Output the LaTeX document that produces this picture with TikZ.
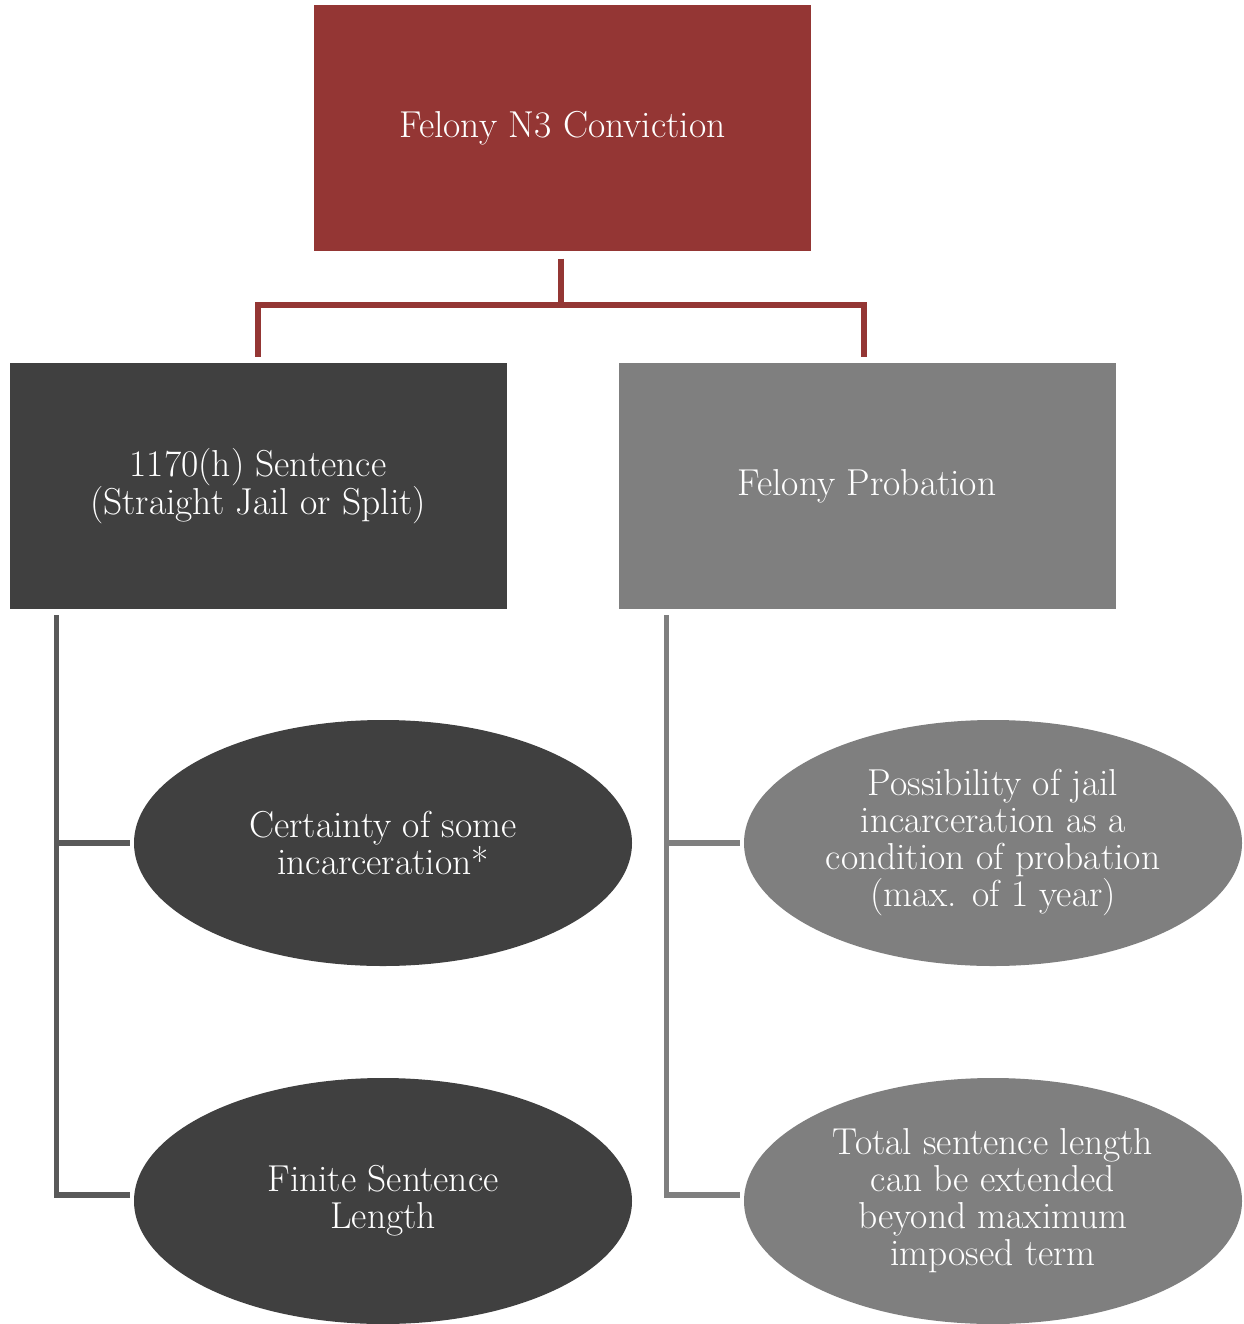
\documentclass[tikz,border=0pt]{standalone}
\usetikzlibrary{shapes.geometric}
\definecolor{topred}{HTML}{943634}
\definecolor{darkbox}{HTML}{404040}
\definecolor{graybox}{HTML}{7F7F7F}
\definecolor{darkline}{HTML}{595959}
\definecolor{grayline}{HTML}{7F7F7F}
\tikzset{
  txt/.style={text=white, align=center, font=\fontsize{37.5}{37}\selectfont, inner sep=0pt},
  boxnode/.style={txt, rectangle, minimum width=497pt, minimum height=246pt},
  ellnode/.style={txt, ellipse, minimum width=498pt, minimum height=246pt},
  redline/.style={draw=topred, line width=5.5pt},
  dline/.style={draw=darkline, line width=5.5pt},
  gline/.style={draw=grayline, line width=5.5pt},
}
\begin{document}
\begin{tikzpicture}[x=1pt,y=-1pt]
\useasboundingbox (0,0) rectangle (1243,1324);
\node[boxnode, fill=topred] (top) at (562.5,128.5) {Felony N3 Conviction};
\node[boxnode, fill=darkbox] (lb) at (258,486) {1170(h) Sentence\\(Straight Jail or Split)};
\node[boxnode, fill=graybox] (rb) at (867,486) {Felony Probation};
\node[ellnode, fill=darkbox] (e1) at (383,843) {Certainty of some\\incarceration*};
\node[ellnode, fill=darkbox] (e2) at (383,1201) {Finite Sentence\\Length};
\node[ellnode, fill=graybox] (e3) at (993,843) {Possibility of jail\\incarceration as a\\condition of probation\\(max. of 1 year)};
\node[ellnode, fill=graybox] (e4) at (993,1201) {Total sentence length\\can be extended\\beyond maximum\\imposed term};
\coordinate (bus) at (561,305);
\draw[redline] ([yshift=-7pt]top.south -| bus) -- (bus);
\draw[redline] ([xshift=-3pt,yshift=6pt]rb.north) |- (bus) -| ([yshift=6pt]lb.north);
\coordinate (lv) at ([xshift=47pt,yshift=-6pt]lb.south west);
\coordinate (rv) at ([xshift=48pt,yshift=-6pt]rb.south west);
\draw[dline] (lv) |- ([xshift=-4pt,yshift=6pt]e2.west);
\draw[dline] (lv |- e1.west) -- ([xshift=-4pt]e1.west);
\draw[gline] (rv) |- ([xshift=-4pt,yshift=6pt]e4.west);
\draw[gline] (rv |- e3.west) -- ([xshift=-4pt]e3.west);
\end{tikzpicture}
\end{document}
